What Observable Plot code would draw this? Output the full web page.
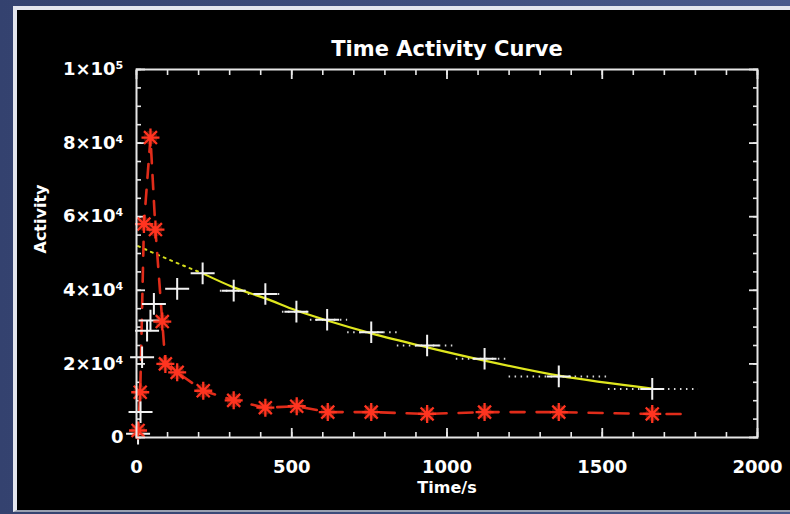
<!DOCTYPE html>
<html><head><meta charset="utf-8">
<script src="https://cdn.jsdelivr.net/npm/d3@7"></script>
<script src="https://cdn.jsdelivr.net/npm/@observablehq/plot@0.6"></script>
<style>
html,body{margin:0;padding:0;width:790px;height:514px;overflow:hidden;background:linear-gradient(90deg,#34426f 0%,#4a5a8c 100%);}
#panel{position:absolute;left:13px;top:6px;width:777px;height:506px;background:#000;border-left:4px solid #e4e6ee;border-top:4px solid #e4e6ee;border-bottom:2px solid #9aa0b0;box-sizing:border-box;}
#chart{position:absolute;left:0;top:0;}
</style></head><body>
<div id="panel"></div>
<div id="chart"></div>
<script>
// Red series (stars, dashed)
const redTime     = [5, 12, 24, 45, 61, 83, 93, 131, 215, 313, 415, 516, 616, 756, 936, 1121, 1360, 1661];
const redActivity = [1900, 12300, 58000, 81500, 56500, 31500, 20000, 17700, 12700, 10100, 8100, 8500, 6900, 6900, 6400, 6900, 6900, 6400];
const redLineStart = [0, 0];      // [time, activity]
const redLineEnd   = [1790, 6400];

// White series (crosses)
const whiteTime     = [5, 13, 18, 34, 45, 56, 131, 213, 313, 415, 515, 614, 756, 936, 1121, 1360, 1661];
const whiteActivity = [1000, 6900, 21800, 29000, 31800, 36300, 40400, 44600, 39900, 39000, 34200, 32000, 28600, 25000, 21400, 16600, 13200];
// Frame extents (dotted) for the later white points
const frameStart    = [270, 360, 470, 560, 680, 840, 1030, 1200, 1520];
const frameEnd      = [360, 470, 560, 680, 840, 1030, 1200, 1520, 1810];
const frameActivity = [39900, 39000, 34200, 32000, 28600, 25000, 21400, 16600, 13200];

// Yellow fitted curve
const fitTime     = [5, 100, 213, 313, 415, 515, 614, 756, 936, 1121, 1360, 1661];
const fitActivity = [52000, 48500, 44600, 40800, 37800, 34500, 31800, 28300, 24500, 20900, 16800, 13300];
const fitSolidFrom = 213;

// Axes
const xTickValues = [0, 500, 1000, 1500, 2000];
const xMinorTicks = d3.range(0, 2001, 100);
const yTickValues = [0, 20000, 40000, 60000, 80000, 100000];
const yTickLabels = ["0", "2×10⁴", "4×10⁴", "6×10⁴", "8×10⁴", "1×10⁵"];
const yMinorTicks = d3.range(0, 100001, 5000);

const title = "Time Activity Curve";
const xLabel = "Time/s";
const yLabel = "Activity";

const red = redTime.map((t, i) => ({t, a: redActivity[i]}));
const redLine = [{t: redLineStart[0], a: redLineStart[1]}, ...red, {t: redLineEnd[0], a: redLineEnd[1]}];
const white = whiteTime.map((t, i) => ({t, a: whiteActivity[i]}));
const frames = frameStart.map((s, i) => ({s, e: frameEnd[i], a: frameActivity[i]}));
const fit = fitTime.map((t, i) => ({t, a: fitActivity[i]}));

const crossSym = {draw(ctx, size) { const r = Math.sqrt(size / Math.PI); ctx.moveTo(-r, 0); ctx.lineTo(r, 0); ctx.moveTo(0, -0.9 * r); ctx.lineTo(0, 0.9 * r); }};
const starSym = {draw(ctx, size) { const r = Math.sqrt(size / Math.PI); const d = r * 0.72;
  ctx.moveTo(-r, 0); ctx.lineTo(r, 0); ctx.moveTo(0, -r); ctx.lineTo(0, r);
  ctx.moveTo(-d, -d); ctx.lineTo(d, d); ctx.moveTo(-d, d); ctx.lineTo(d, -d); }};

const ylab = new Map(yTickValues.map((v, i) => [v, yTickLabels[i]]));
const tickColor = "#e8e8e8";

const chart = Plot.plot({
  width: 790, height: 514,
  marginLeft: 136, marginRight: 33, marginTop: 69, marginBottom: 77,
  style: {background: "transparent", color: "#fff", fontFamily: "'DejaVu Sans', sans-serif", fontWeight: "bold"},
  x: {domain: [0, 2000]},
  y: {domain: [0, 100000]},
  marks: [
    // inward ticks
    Plot.axisY({anchor: "left", ticks: yMinorTicks, tickSize: -5, tickFormat: () => "", label: null, stroke: tickColor, strokeWidth: 1.6}),
    Plot.axisY({anchor: "left", ticks: yTickValues, tickSize: -9, tickFormat: () => "", label: null, stroke: tickColor, strokeWidth: 1.8}),
    Plot.axisY({anchor: "right", ticks: yMinorTicks, tickSize: -5, tickFormat: () => "", label: null, stroke: tickColor, strokeWidth: 1.6}),
    Plot.axisY({anchor: "right", ticks: yTickValues, tickSize: -9, tickFormat: () => "", label: null, stroke: tickColor, strokeWidth: 1.8}),
    Plot.axisX({anchor: "bottom", ticks: xMinorTicks, tickSize: -5, tickFormat: () => "", label: null, stroke: tickColor, strokeWidth: 1.6}),
    Plot.axisX({anchor: "bottom", ticks: xTickValues, tickSize: -9, tickFormat: () => "", label: null, stroke: tickColor, strokeWidth: 1.8}),
    Plot.axisX({anchor: "top", ticks: xMinorTicks, tickSize: -5, tickFormat: () => "", label: null, stroke: tickColor, strokeWidth: 1.6}),
    Plot.axisX({anchor: "top", ticks: xTickValues, tickSize: -9, tickFormat: () => "", label: null, stroke: tickColor, strokeWidth: 1.8}),
    // tick labels
    Plot.axisY({anchor: "left", ticks: yTickValues, tickSize: 0, tickPadding: 13, tickFormat: d => ylab.get(d), label: null, fontSize: 18, fontWeight: "bold", fill: "#fff"}),
    Plot.axisX({anchor: "bottom", ticks: xTickValues, tickSize: 0, tickPadding: 23, tickFormat: d => String(d), label: null, fontSize: 18, fontWeight: "bold", fill: "#fff"}),
    // data
    Plot.ruleY(frames, {y: "a", x1: "s", x2: "e", stroke: "#d8d8d8", strokeWidth: 2, strokeDasharray: "1.5,4.5"}),
    Plot.line(fit.filter(d => d.t <= fitSolidFrom), {x: "t", y: "a", stroke: "#d4dc1c", strokeWidth: 2, strokeDasharray: "2,5", curve: "monotone-x"}),
    Plot.line(fit.filter(d => d.t >= fitSolidFrom), {x: "t", y: "a", stroke: "#dfe61e", strokeWidth: 2.2, curve: "monotone-x"}),
    Plot.line(redLine, {x: "t", y: "a", stroke: "#e02c1a", strokeWidth: 2.6, strokeDasharray: "14,12"}),
    Plot.dot(white, {x: "t", y: "a", symbol: crossSym, r: 12, stroke: "#f2f2f2", strokeWidth: 2}),
    Plot.dot(red, {x: "t", y: "a", r: 7, fill: "#ff3a1e", fillOpacity: 0.3}),
    Plot.dot(red, {x: "t", y: "a", symbol: starSym, r: 9, stroke: "#ff3420", strokeWidth: 2.3}),
    Plot.frame({stroke: "#e6e6e6", strokeWidth: 2}),
    // titles
    Plot.text([title], {frameAnchor: "top", dy: -28, fontSize: 21, fontWeight: "bold", fill: "#fff"}),
    Plot.text([yLabel], {frameAnchor: "left", dx: -96, rotate: -90, fontSize: 16, fontWeight: "bold", fill: "#fff"}),
    Plot.text([xLabel], {frameAnchor: "bottom", dy: 55, fontSize: 16, fontWeight: "bold", fill: "#fff"})
  ]
});
document.getElementById("chart").appendChild(chart);
</script>
</body></html>
